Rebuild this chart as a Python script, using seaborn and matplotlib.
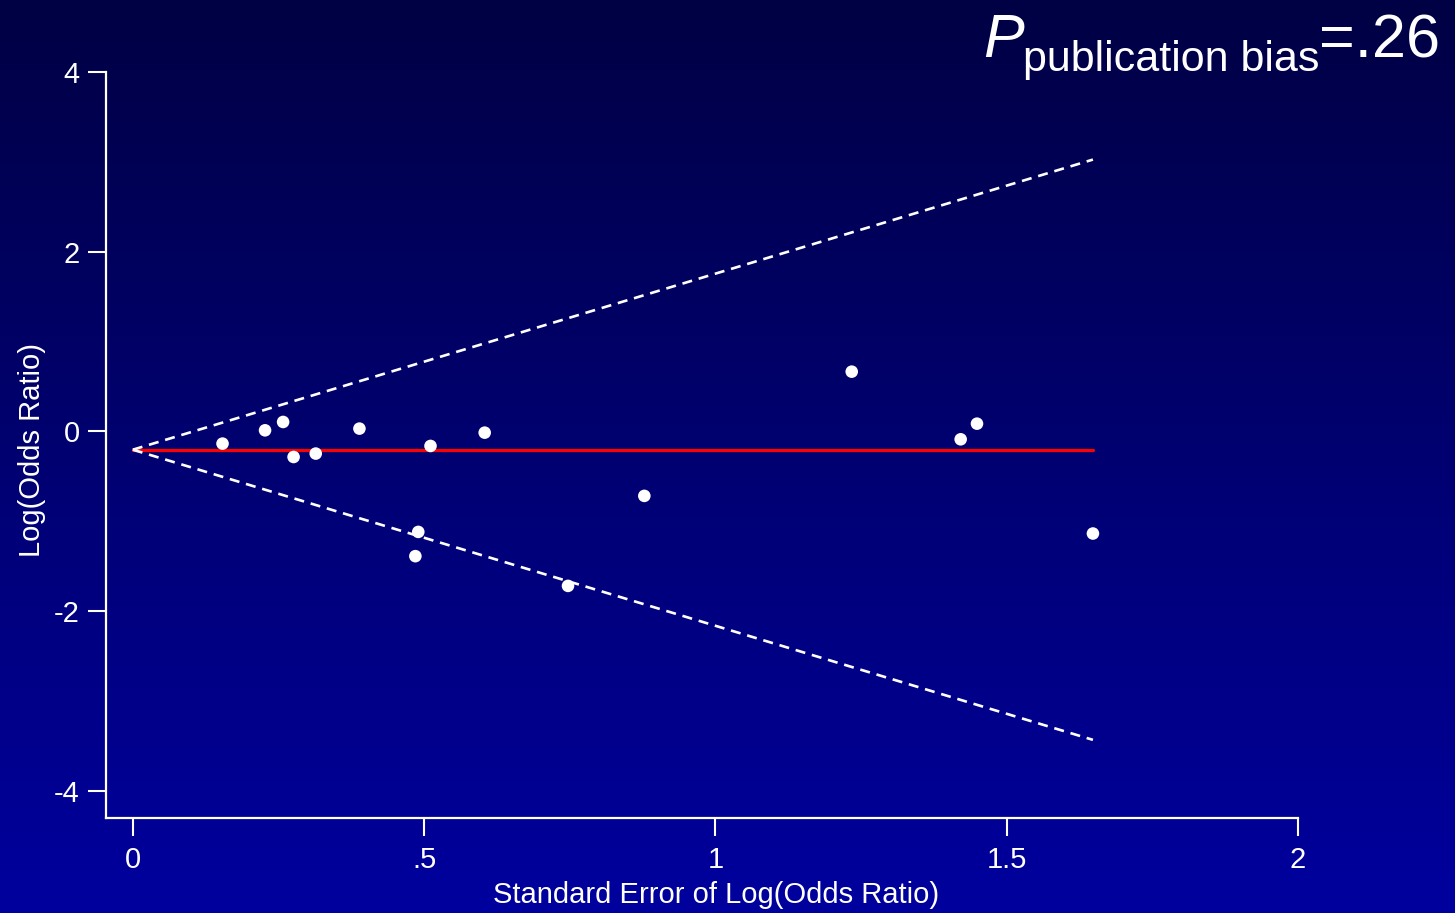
import numpy as np
import pandas as pd
import matplotlib
matplotlib.use("Agg")
import matplotlib.pyplot as plt
import seaborn as sns
from matplotlib.colors import LinearSegmentedColormap

# Study-level estimates for the funnel plot
se = [0.154, 0.227, 0.258, 0.276, 0.314, 0.389, 0.485, 0.490,
      0.511, 0.604, 0.747, 0.878, 1.234, 1.421, 1.449, 1.648]
log_or = [-0.137, 0.011, 0.104, -0.286, -0.248, 0.030, -1.390, -1.120,
          -0.163, -0.015, -1.721, -0.719, 0.664, -0.089, 0.085, -1.138]

pooled_log_or = -0.205
z_crit = 1.96

x_ticks = [0, 0.5, 1, 1.5, 2]
x_tick_labels = ["0", ".5", "1", "1.5", "2"]
y_ticks = [-4, -2, 0, 2, 4]
y_tick_labels = ["-4", "-2", "0", "2", "4"]

x_label = "Standard Error of Log(Odds Ratio)"
y_label = "Log(Odds Ratio)"
p_value_text = "=.26"

W, H = 1455, 913

sns.set_theme(style="white")
plt.rcParams["font.family"] = ["Liberation Sans", "DejaVu Sans"]

fig = plt.figure(figsize=(W / 100, H / 100), dpi=100)

# vertical navy gradient behind everything
bg = fig.add_axes([0, 0, 1, 1], zorder=-10)
cmap = LinearSegmentedColormap.from_list("navy", ["#00009e", "#000044"])
grad = np.linspace(0, 1, 256).reshape(-1, 1)
bg.imshow(grad, aspect="auto", cmap=cmap, origin="lower", extent=[0, 1, 0, 1])
bg.set_axis_off()

left, right, top, bottom = 106, 1298, 72, 818
ax = fig.add_axes([left / W, 1 - bottom / H, (right - left) / W, (bottom - top) / H])
ax.set_facecolor("none")

df = pd.DataFrame({"se": se, "log_or": log_or})

# pseudo 95% confidence limits and pooled estimate
se_max = max(se)
funnel = pd.DataFrame({
    "se": [0, se_max],
    "upper": [pooled_log_or, pooled_log_or + z_crit * se_max],
    "lower": [pooled_log_or, pooled_log_or - z_crit * se_max],
    "pooled": [pooled_log_or, pooled_log_or],
})

ax.plot(funnel["se"], funnel["pooled"], color="#ff0000", lw=2.3, zorder=2)
for col in ["upper", "lower"]:
    ax.plot(funnel["se"], funnel[col], color="white", lw=1.9,
            dashes=(3.8, 2.6), zorder=3)

sns.scatterplot(data=df, x="se", y="log_or", ax=ax, s=82, color="white",
                edgecolor="none", linewidth=0, zorder=4)

ax.set_xlim(-0.046, 2.0)
ax.set_ylim(-4.305, 4.0)
ax.set_xticks(x_ticks, x_tick_labels)
ax.set_yticks(y_ticks, y_tick_labels)

for side in ["top", "right"]:
    ax.spines[side].set_visible(False)
for side in ["left", "bottom"]:
    ax.spines[side].set_color("white")
    ax.spines[side].set_linewidth(1.6)

ax.tick_params(axis="both", direction="out", length=13, width=1.5,
               color="white", labelcolor="white", labelsize=21)
ax.tick_params(axis="x", pad=7, bottom=True)
ax.tick_params(axis="y", pad=6, left=True)

ax.set_xlabel(x_label, color="white", fontsize=21)
ax.set_ylabel(y_label, color="white", fontsize=21)
ax.xaxis.label.set_va("center")
ax.yaxis.label.set_va("center")
ax.xaxis.set_label_coords((716 - left) / (right - left), (bottom - 895) / (bottom - top))
ax.yaxis.set_label_coords((32 - left) / (right - left), (bottom - 450) / (bottom - top))

# P-value annotation with subscript, placed right to left
fig.canvas.draw()
renderer = fig.canvas.get_renderer()
t_val = fig.text(1440 / W, 1 - 57 / H, p_value_text, ha="right", va="baseline",
                 color="white", fontsize=44)
x0 = t_val.get_window_extent(renderer).x0
t_sub = fig.text(x0 / W, 1 - 71 / H, "publication bias", ha="right", va="baseline",
                 color="white", fontsize=31)
x1 = t_sub.get_window_extent(renderer).x0
fig.text(x1 / W + 0.001, 1 - 57 / H, "P", ha="right", va="baseline",
         color="white", fontsize=44, style="italic")

fig.savefig("out.png", dpi=100)
